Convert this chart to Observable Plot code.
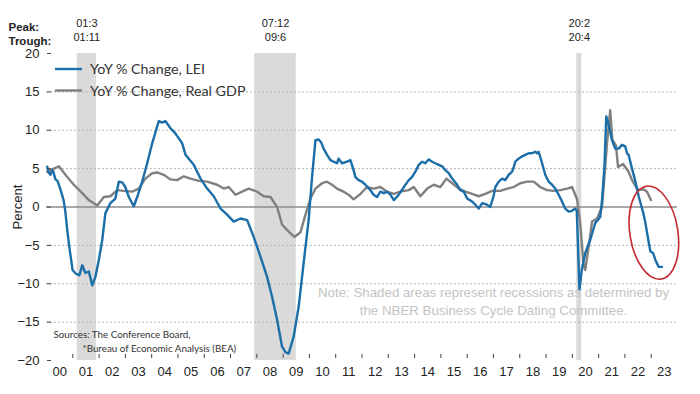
<!DOCTYPE html>
<html><head><meta charset="utf-8">
<script src="https://cdn.jsdelivr.net/npm/d3@7"></script>
<script src="https://cdn.jsdelivr.net/npm/@observablehq/plot@0.6"></script>
<style>body{margin:0;background:#fff;} #chart{width:700px;height:394px;position:relative;}</style>
</head><body><div id="chart"></div>
<script>
// LEI YoY % change: [decimal year, value]
const leiData = [
[2000.03,5.25],[2000.08,4.5],[2000.15,4.2],[2000.22,4.8],[2000.27,4.5],[2000.34,3.6],[2000.42,3.4],[2000.53,2.3],[2000.65,0.9],[2000.71,-0.4],[2000.79,-3.0],[2000.86,-5.0],[2000.91,-6.2],[2000.99,-8.2],[2001.12,-8.7],[2001.25,-8.9],[2001.36,-7.6],[2001.48,-8.6],[2001.61,-8.4],[2001.74,-10.2],[2001.86,-9.1],[2001.99,-6.9],[2002.12,-4.3],[2002.24,-0.8],[2002.43,0.5],[2002.62,1.1],[2002.75,3.3],[2002.88,3.2],[2003.00,2.6],[2003.13,1.3],[2003.32,0.1],[2003.45,1.3],[2003.64,3.3],[2003.83,5.7],[2004.02,8.3],[2004.27,11.2],[2004.40,11.0],[2004.52,11.2],[2004.71,10.3],[2004.90,9.6],[2005.16,8.3],[2005.29,6.8],[2005.41,6.3],[2005.60,5.5],[2005.86,3.7],[2006.11,2.4],[2006.36,1.4],[2006.62,-0.2],[2006.87,-1.0],[2007.12,-1.9],[2007.38,-1.5],[2007.63,-1.7],[2007.88,-3.9],[2008.14,-6.5],[2008.39,-9.1],[2008.58,-11.7],[2008.77,-14.7],[2008.96,-18.2],[2009.09,-18.9],[2009.21,-19.1],[2009.40,-16.9],[2009.59,-13.0],[2009.78,-7.3],[2009.97,-1.7],[2010.10,3.9],[2010.23,8.7],[2010.35,8.8],[2010.45,8.4],[2010.54,7.6],[2010.67,6.8],[2010.80,6.1],[2010.92,5.9],[2011.05,5.7],[2011.11,6.3],[2011.24,5.7],[2011.43,5.9],[2011.56,6.1],[2011.68,4.8],[2011.75,3.9],[2011.87,3.5],[2012.00,3.3],[2012.13,2.9],[2012.32,2.2],[2012.44,1.6],[2012.57,1.3],[2012.70,2.0],[2012.83,1.8],[2012.95,2.0],[2013.08,1.6],[2013.21,0.9],[2013.40,1.6],[2013.59,2.6],[2013.78,3.5],[2013.90,3.9],[2014.03,4.6],[2014.16,5.5],[2014.29,5.9],[2014.41,5.7],[2014.54,6.2],[2014.67,5.9],[2014.79,5.7],[2014.92,5.5],[2015.05,5.3],[2015.17,4.8],[2015.30,4.4],[2015.43,3.7],[2015.62,2.9],[2015.74,2.2],[2015.87,2.0],[2016.00,1.1],[2016.19,0.7],[2016.31,0.3],[2016.44,-0.2],[2016.57,0.5],[2016.76,0.3],[2016.88,0.0],[2017.01,1.5],[2017.07,2.6],[2017.20,3.3],[2017.33,3.7],[2017.45,3.5],[2017.58,4.2],[2017.71,4.6],[2017.77,5.2],[2017.83,5.9],[2017.96,6.3],[2018.09,6.6],[2018.21,6.8],[2018.34,7.0],[2018.47,7.0],[2018.59,7.2],[2018.66,7.0],[2018.72,7.2],[2018.85,5.7],[2018.97,4.2],[2019.10,3.3],[2019.23,2.9],[2019.35,2.4],[2019.48,1.6],[2019.61,0.7],[2019.73,-0.2],[2019.86,-0.6],[2019.99,-0.5],[2020.11,-0.2],[2020.17,-0.5],[2020.27,-10.8],[2020.36,-8.2],[2020.49,-6.0],[2020.68,-4.3],[2020.87,-2.1],[2021.06,-1.3],[2021.13,0.9],[2021.22,5.2],[2021.29,11.8],[2021.38,10.7],[2021.51,8.7],[2021.63,7.6],[2021.76,7.6],[2021.89,8.1],[2022.01,7.9],[2022.08,7.0],[2022.14,6.8],[2022.27,5.0],[2022.40,3.3],[2022.53,1.3],[2022.70,-0.8],[2022.78,-2.1],[2022.91,-4.7],[2022.97,-5.8],[2023.07,-6.0],[2023.16,-6.9],[2023.28,-7.8],[2023.41,-7.8]
];
// Real GDP YoY % change: [decimal year, value]
const gdpData = [
[2000.03,4.6],[2000.47,5.3],[2000.72,4.2],[2001.04,2.9],[2001.36,1.8],[2001.61,0.9],[2001.93,0.2],[2002.18,1.3],[2002.43,1.4],[2002.69,2.2],[2002.94,2.1],[2003.26,2.0],[2003.51,2.4],[2003.76,3.7],[2004.02,4.4],[2004.21,4.5],[2004.46,4.2],[2004.71,3.6],[2004.97,3.5],[2005.22,4.0],[2005.48,3.7],[2005.79,3.4],[2006.11,3.3],[2006.49,2.9],[2006.74,2.4],[2006.93,2.6],[2007.19,1.6],[2007.44,2.0],[2007.69,2.4],[2008.01,2.0],[2008.26,1.4],[2008.52,1.3],[2008.77,0.0],[2008.96,-2.3],[2009.21,-3.2],[2009.43,-3.9],[2009.66,-3.3],[2009.85,-1.0],[2010.04,1.1],[2010.23,2.4],[2010.48,3.1],[2010.67,3.3],[2010.86,2.9],[2011.05,2.4],[2011.30,2.0],[2011.49,1.6],[2011.68,1.0],[2011.94,1.7],[2012.19,2.6],[2012.44,2.4],[2012.70,2.6],[2012.95,2.0],[2013.21,1.7],[2013.46,2.0],[2013.78,2.2],[2013.97,2.6],[2014.22,1.4],[2014.48,2.4],[2014.73,2.9],[2014.98,2.6],[2015.21,3.7],[2015.43,3.1],[2015.68,2.4],[2015.93,2.0],[2016.19,1.7],[2016.44,1.4],[2016.69,1.7],[2016.95,2.1],[2017.26,2.1],[2017.52,2.4],[2017.77,2.6],[2018.02,3.1],[2018.28,3.3],[2018.53,3.3],[2018.78,2.6],[2019.04,2.2],[2019.29,2.1],[2019.54,2.2],[2019.80,2.4],[2019.99,2.6],[2020.18,1.0],[2020.30,-2.1],[2020.42,-7.3],[2020.49,-8.2],[2020.62,-5.2],[2020.75,-1.9],[2020.94,-1.5],[2021.13,0.0],[2021.32,8.3],[2021.44,12.6],[2021.52,8.8],[2021.66,8.0],[2021.74,5.2],[2021.93,5.6],[2022.14,4.6],[2022.27,3.5],[2022.50,2.2],[2022.71,2.3],[2022.84,2.0],[2022.99,0.9]
];
// Recessions (NBER)
const recStart = [2001.17, 2007.92, 2020.17];
const recEnd = [2001.90, 2009.50, 2020.36];
const recPeak = ["01:3", "07:12", "20:2"];
const recTrough = ["01:11", "09:6", "20:4"];
// Axis ticks
const yTicks = [-20, -15, -10, -5, 0, 5, 10, 15, 20];
const gridVals = [-15, -10, -5, 5, 10, 15];
const years = d3.range(2000, 2024);
const yearLabels = years.map(y => String(y % 100).padStart(2, "0"));
// Texts
const seriesNames = ["YoY % Change, LEI", "YoY % Change, Real GDP"];
const seriesColors = ["#1b6ea8", "#808080"];
const noteLines = ["Note: Shaded areas represent recessions as determined by", "the NBER Business Cycle Dating Committee."];
const sourceLines = ["Sources: The Conference Board,", "*Bureau of Economic Analysis (BEA)"];
// Highlight ellipse annotation (center year, center value)
const highlight = {t: 2023.12, v: -3.4};

const lei = leiData.map(([t, v]) => ({t, v}));
const gdp = gdpData.map(([t, v]) => ({t, v}));
const recessions = recStart.map((s, i) => ({start: s, end: recEnd[i], mid: (s + recEnd[i]) / 2, peak: recPeak[i], trough: recTrough[i]}));

const plot = Plot.plot({
  width: 700, height: 394,
  marginLeft: 46, marginRight: 23, marginTop: 53, marginBottom: 34,
  style: {fontFamily: "'Liberation Sans', Arial, sans-serif", fontSize: "13px", color: "#222", background: "#fff"},
  x: {domain: [2000, 2024]},
  y: {domain: [-20, 20]},
  marks: [
    Plot.rect(recessions, {x1: "start", x2: "end", y1: -20, y2: 20, fill: "#dadada"}),
    Plot.ruleY(gridVals, {stroke: "#b5b5b5", strokeDasharray: "2,2", strokeWidth: 1}),
    Plot.ruleY([0], {stroke: "#8c8c8c", strokeWidth: 1.6}),
    Plot.line(gdp, {x: "t", y: "v", stroke: seriesColors[1], strokeWidth: 2.4}),
    Plot.line(lei, {x: "t", y: "v", stroke: seriesColors[0], strokeWidth: 2.4}),
    Plot.axisY({ticks: yTicks, tickSize: 0, tickPadding: 7, fontSize: 13, label: "Percent", labelAnchor: "center", labelOffset: 34, labelArrow: "none"}),
    Plot.ruleY(yTicks, {x1: 2000.04, x2: 2000.19, stroke: "#444", strokeWidth: 1}),
    Plot.axisX({ticks: years.map(y => y + 0.5), tickSize: 0, tickPadding: 6, fontSize: 13, tickFormat: d => yearLabels[Math.floor(d) - 2000], label: null}),
    Plot.ruleX(years.slice(1), {y1: -20, y2: -19.45, dy: -2, stroke: "#444", strokeWidth: 1}),
    Plot.text(recessions, {x: "mid", frameAnchor: "top", text: "peak", dy: -34, fontSize: 11, fill: "#222"}),
    Plot.text(recessions, {x: "mid", frameAnchor: "top", text: "trough", dy: -20, fontSize: 11, fill: "#222"}),
    Plot.text(["Peak:"], {frameAnchor: "top-left", dx: -38, dy: -31, textAnchor: "start", fontWeight: "bold", fontSize: 11.5, fill: "#222"}),
    Plot.text(["Trough:"], {frameAnchor: "top-left", dx: -38, dy: -17, textAnchor: "start", fontWeight: "bold", fontSize: 11.5, fill: "#222"}),
    Plot.text([noteLines[0]], {frameAnchor: "bottom-right", textAnchor: "middle", dx: -184, dy: -64, fill: "#c4c4c4", fontSize: 13.3}),
    Plot.text([noteLines[1]], {frameAnchor: "bottom-right", textAnchor: "middle", dx: -184, dy: -46, fill: "#c4c4c4", fontSize: 13.3}),
    Plot.text([sourceLines[0]], {frameAnchor: "bottom-left", textAnchor: "start", dx: 7, dy: -23, fill: "#333", fontSize: 9.8, fontFamily: "Lato, 'Open Sans', sans-serif"}),
    Plot.text([sourceLines[1]], {frameAnchor: "bottom-left", textAnchor: "start", dx: 36, dy: -9, fill: "#333", fontSize: 9.8, fontFamily: "Lato, 'Open Sans', sans-serif"})
  ]
});
document.getElementById("chart").appendChild(plot);

const svg = d3.select(plot);
const xs = plot.scale("x"), ys = plot.scale("y");
// Legend
const lg = svg.append("g").attr("font-family", "Lato, 'Open Sans', sans-serif").attr("font-size", 14.3).attr("fill", "#333").attr("text-anchor", "start");
seriesNames.forEach((s, i) => {
  const y = ys.apply(20) + 16 + i * 21.5;
  const x0 = xs.apply(2000);
  lg.append("line").attr("x1", x0 + 9).attr("x2", x0 + 36).attr("y1", y).attr("y2", y).attr("stroke", seriesColors[i]).attr("stroke-width", 2.4);
  lg.append("text").attr("x", x0 + 44).attr("y", y).attr("dy", "0.35em").text(s);
});
// Highlight ellipse
const cx = xs.apply(highlight.t), cy = ys.apply(highlight.v);
svg.append("ellipse").attr("cx", cx).attr("cy", cy).attr("rx", 24).attr("ry", 47)
  .attr("transform", `rotate(-9 ${cx} ${cy})`).attr("fill", "none").attr("stroke", "#c42a30").attr("stroke-width", 1.6);
</script>
</body></html>
